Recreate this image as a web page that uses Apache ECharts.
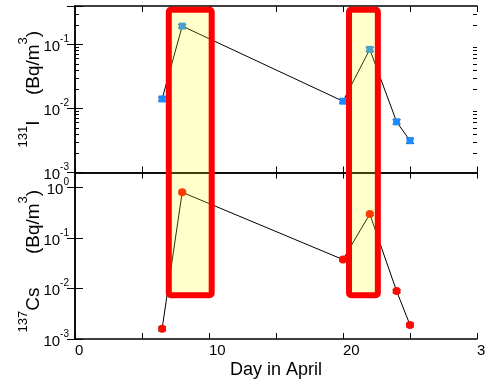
<!DOCTYPE html>
<html>
<head>
<meta charset="utf-8">
<script src="https://cdn.jsdelivr.net/npm/echarts@6/dist/echarts.min.js"></script>
<style>
  html, body { margin: 0; padding: 0; background: #fff; }
  #chart { width: 485px; height: 384px; }
</style>
</head>
<body>
<div id="chart"></div>
<script>
// days of sampling (April)
const days = [6.5, 8, 20, 22, 24, 25];
// activity concentrations, Bq/m3
const iodine = [0.0141, 0.194, 0.0130, 0.084, 0.0062, 0.00314];
const iodineErr = [0.0010, 0.012, 0.0009, 0.006, 0.0005, 0.0003];
const cesium = [0.0016, 0.81, 0.0376, 0.30, 0.0089, 0.0019];
const cesiumErr = [0.00015, 0.05, 0.0025, 0.02, 0.0007, 0.00017];
// highlighted periods: [day from, day to]
const boxDays = [[7.0, 10.2], [20.45, 22.6]];
const boxTop = 0.35;      // in 131I axis units
const boxBottom = 0.0074; // in 137Cs axis units
// minor log ticks for the upper panel
const minorTicks = [0.002, 0.003, 0.004, 0.005, 0.006, 0.007, 0.008, 0.009,
  0.02, 0.03, 0.04, 0.05, 0.06, 0.07, 0.08, 0.09, 0.2, 0.3];

const FONT = 'Liberation Sans, Arial, sans-serif';

function pow10Label(v) {
  const e = Math.log10(v);
  if (Math.abs(e - Math.round(e)) > 1e-6) return '';
  return '{b|10}{s|' + Math.round(e) + '}';
}
const labelRich = {
  b: { fontSize: 15, fontFamily: FONT, color: '#000', lineHeight: 20, verticalAlign: 'bottom' },
  s: { fontSize: 10, fontFamily: FONT, color: '#000', lineHeight: 10, verticalAlign: 'top' }
};

const frame = { show: true, lineStyle: { color: '#000', width: 1.5 } };
const noSplit = { show: false };

function xAx(gridIndex, position, labels) {
  return {
    type: 'value', gridIndex, position, min: 0, max: 30, interval: 5,
    axisLine: frame, splitLine: noSplit,
    axisTick: { show: true, inside: true, length: 6, lineStyle: { color: '#000', width: 1 } },
    axisLabel: labels ? {
      show: true, margin: 4, fontSize: 15, fontFamily: FONT, color: '#000', align: 'left',
      formatter: v => (v % 10 === 0 ? String(v) : '')
    } : { show: false }
  };
}
function yAx(gridIndex, position, max, labels) {
  return {
    type: 'log', logBase: 10, gridIndex, position, min: 0.001, max,
    axisLine: frame, splitLine: noSplit,
    axisTick: { show: true, inside: true, length: 8, lineStyle: { color: '#000', width: 1 } },
    axisLabel: labels ? { show: true, margin: 6, formatter: pow10Label, rich: labelRich } : { show: false }
  };
}
function minorAx(position) {
  return {
    type: 'log', logBase: 10, gridIndex: 0, position, min: 0.001, max: 0.4,
    axisLine: { show: false }, splitLine: noSplit, axisLabel: { show: false },
    axisTick: { show: true, inside: true, length: 4, customValues: minorTicks,
      lineStyle: { color: '#000', width: 1 } }
  };
}

function errSeries(xi, yi, vals, errs) {
  return {
    type: 'custom', xAxisIndex: xi, yAxisIndex: yi, z: 3, silent: true,
    data: days.map((d, i) => [d, vals[i] - errs[i], vals[i] + errs[i]]),
    renderItem: (params, api) => {
      const lo = api.coord([api.value(0), api.value(1)]);
      const hi = api.coord([api.value(0), api.value(2)]);
      const w = 4;
      const st = { stroke: '#222', lineWidth: 1 };
      return { type: 'group', children: [
        { type: 'line', shape: { x1: lo[0], y1: lo[1], x2: hi[0], y2: hi[1] }, style: st },
        { type: 'line', shape: { x1: lo[0] - w, y1: lo[1], x2: lo[0] + w, y2: lo[1] }, style: st },
        { type: 'line', shape: { x1: hi[0] - w, y1: hi[1], x2: hi[0] + w, y2: hi[1] }, style: st }
      ]};
    }
  };
}

const chart = echarts.init(document.getElementById('chart'), null, { renderer: 'canvas' });

const option = {
  animation: false,
  grid: [
    { left: 75, right: 8, top: 6, height: 166.5, outerBoundsMode: 'none' },
    { left: 75, right: 8, top: 172.5, height: 166.5, outerBoundsMode: 'none' }
  ],
  xAxis: [
    xAx(0, 'bottom', false),
    xAx(0, 'top', false),
    Object.assign(xAx(1, 'bottom', true), {
      name: 'Day in April', nameLocation: 'middle', nameGap: 22,
      nameTextStyle: { fontSize: 18, fontFamily: FONT, color: '#000' }
    }),
    xAx(1, 'top', false)
  ],
  yAxis: [
    yAx(0, 'left', 0.4, true),
    yAx(0, 'right', 0.4, false),
    minorAx('left'),
    minorAx('right'),
    yAx(1, 'left', 2, true),
    yAx(1, 'right', 2, false)
  ],
  series: [
    errSeries(0, 0, iodine, iodineErr),
    {
      type: 'line', xAxisIndex: 0, yAxisIndex: 0, z: 4,
      data: days.map((d, i) => [d, iodine[i]]),
      symbol: 'rect', symbolSize: 7,
      itemStyle: { color: '#1a8cff' },
      lineStyle: { color: '#000', width: 1 }
    },
    errSeries(2, 4, cesium, cesiumErr),
    {
      type: 'line', xAxisIndex: 2, yAxisIndex: 4, z: 4,
      data: days.map((d, i) => [d, cesium[i]]),
      symbol: 'circle', symbolSize: 8,
      itemStyle: { color: '#ff0a00' },
      lineStyle: { color: '#000', width: 1 }
    }
  ]
};
chart.setOption(option);

// highlight boxes spanning both panels, placed through the axes
const boxes = boxDays.map(([d0, d1]) => {
  const tl = chart.convertToPixel({ xAxisIndex: 0, yAxisIndex: 0 }, [d0, boxTop]);
  const br = chart.convertToPixel({ xAxisIndex: 2, yAxisIndex: 4 }, [d1, boxBottom]);
  return {
    type: 'rect', z: 100,
    shape: { x: tl[0], y: tl[1], width: br[0] - tl[0], height: br[1] - tl[1], r: 2 },
    style: { fill: 'rgba(255,255,0,0.2)', stroke: '#ff0000', lineWidth: 6, lineJoin: 'round' }
  };
});

const titleBig = { fontSize: 19, fontFamily: FONT, fill: '#000', lineHeight: 26, verticalAlign: 'bottom' };
const titleSup = { fontSize: 13, fontFamily: FONT, fill: '#000', lineHeight: 13, verticalAlign: 'top' };
function vText(x, y, text) {
  return {
    type: 'text', x, y, rotation: Math.PI / 2, z: 50,
    style: { text, align: 'center', verticalAlign: 'middle', rich: { b: titleBig, s: titleSup } }
  };
}

chart.setOption({
  graphic: boxes.concat([
    vText(30, 63, '{b|(Bq/m}{s|3}{b|)}'),
    vText(30, 134, '{s|131}{b|I}'),
    vText(30, 222, '{b|(Bq/m}{s|3}{b|)}'),
    vText(30, 310, '{s|137}{b|Cs}')
  ])
});
</script>
</body>
</html>
